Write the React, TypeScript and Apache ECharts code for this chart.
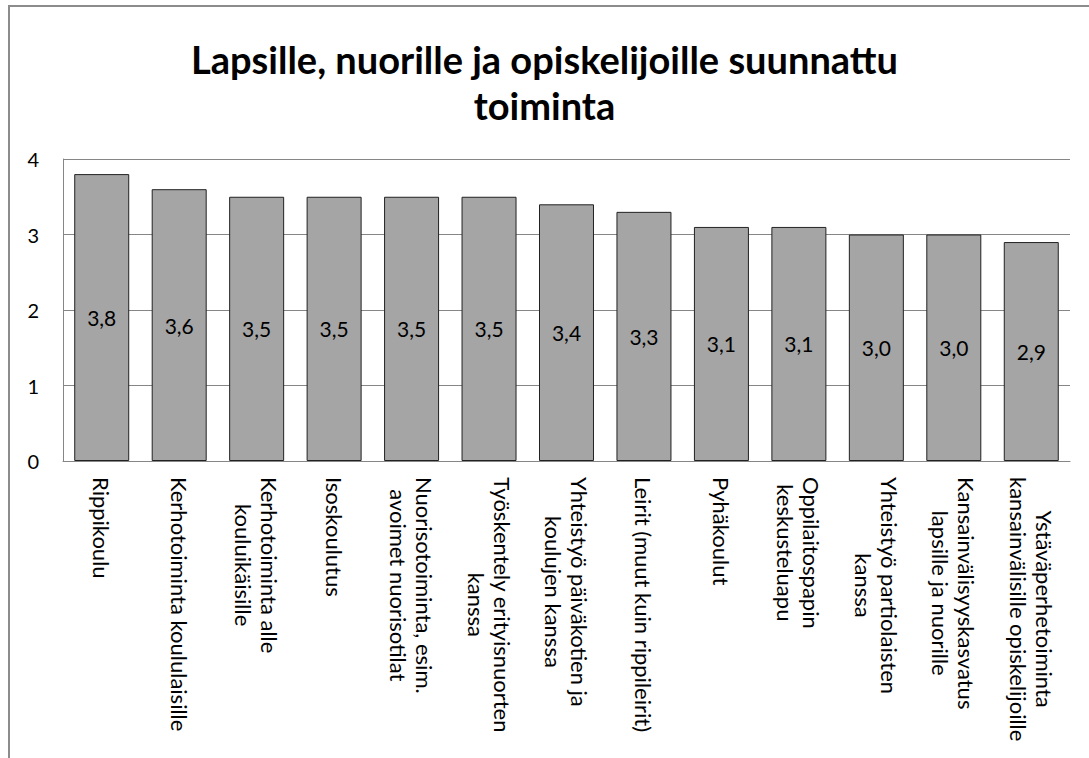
import React, { useEffect, useRef } from "react";
import * as echarts from "echarts";

const TITLE = "Lapsille, nuorille ja opiskelijoille suunnattu\ntoiminta";

const categories: string[] = [
  "Rippikoulu",
  "Kerhotoiminta koululaisille",
  "Kerhotoiminta alle\nkouluikäisille",
  "Isoskoulutus",
  "Nuorisotoiminta, esim.\navoimet nuorisotilat",
  "Työskentely erityisnuorten\nkanssa",
  "Yhteistyö päiväkotien ja\nkoulujen kanssa",
  "Leirit (muut kuin rippileirit)",
  "Pyhäkoulut",
  "Oppilaitospapin\nkeskusteluapu",
  "Yhteistyö partiolaisten\nkanssa",
  "Kansainvälisyyskasvatus\nlapsille ja nuorille",
  "Ystäväperhetoiminta\nkansainvälisille opiskelijoille",
];

const values: number[] = [3.8, 3.6, 3.5, 3.5, 3.5, 3.5, 3.4, 3.3, 3.1, 3.1, 3.0, 3.0, 2.9];

const yTicks = { min: 0, max: 4, interval: 1 };

const FONT = "Lato, 'Open Sans', sans-serif";

export default function App() {
  const ref = useRef<HTMLDivElement>(null);

  useEffect(() => {
    if (!ref.current) return;
    const chart = echarts.init(ref.current, undefined, { renderer: "svg" });
    chart.setOption({
      animation: false,
      backgroundColor: "#ffffff",
      textStyle: { fontFamily: FONT },
      title: {
        text: TITLE,
        left: "center",
        top: 31,
        textStyle: {
          fontFamily: FONT,
          fontSize: 38,
          fontWeight: "bold",
          color: "#000",
          lineHeight: 46,
        },
      },
      graphic: [
        {
          type: "rect",
          shape: { x: 9, y: 6, width: 1200, height: 900 },
          style: { fill: "none", stroke: "#8c8c8c", lineWidth: 2 },
          silent: true,
          z: 100,
        },
      ],
      grid: { left: 63, right: 19, top: 159, bottom: 297, containLabel: false },
      xAxis: {
        type: "category",
        data: categories,
        axisLine: { show: true, lineStyle: { color: "#868686", width: 1 } },
        axisTick: { show: false },
        axisLabel: {
          interval: 0,
          rotate: -90,
          margin: 16,
          fontFamily: FONT,
          fontSize: 22,
          color: "#000",
          formatter: (v: string) =>
            v
              .split("\n")
              .map((l) => "{c|" + l + "}")
              .join("\n"),
          rich: {
            c: { align: "center", fontFamily: FONT, fontSize: 22, color: "#000", lineHeight: 26 },
          },
        },
      },
      yAxis: {
        type: "value",
        min: yTicks.min,
        max: yTicks.max,
        interval: yTicks.interval,
        axisLine: { show: true, lineStyle: { color: "#868686", width: 1 } },
        axisTick: { show: false },
        axisLabel: { margin: 24, fontFamily: FONT, fontSize: 20, color: "#000" },
        splitLine: { show: true, lineStyle: { color: "#868686", width: 1 } },
      },
      series: [
        {
          type: "bar",
          data: values,
          barCategoryGap: "29%",
          itemStyle: { color: "#a5a5a5", borderColor: "#222", borderWidth: 1 },
          label: {
            show: true,
            position: "inside",
            fontFamily: FONT,
            fontSize: 21,
            color: "#000",
            formatter: (p: any) => Number(p.value).toFixed(1).replace(".", ","),
          },
        },
      ],
    });
    return () => chart.dispose();
  }, []);

  return (
    <div
      ref={ref}
      style={{ position: "absolute", left: 0, top: 0, width: 1089, height: 758, background: "#fff" }}
    />
  );
}
